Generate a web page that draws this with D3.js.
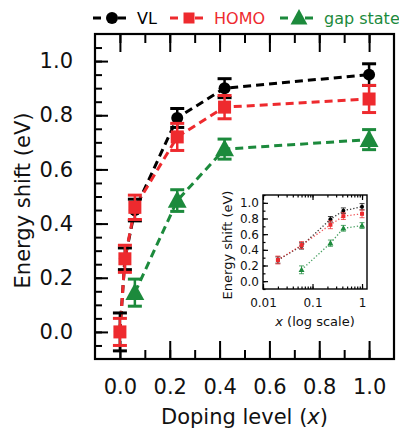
<!DOCTYPE html>
<html><head><meta charset="utf-8">
<script src="https://cdn.jsdelivr.net/npm/d3@7"></script>
<style>body{margin:0;background:#fff}svg{display:block}text{font-family:"DejaVu Sans",Verdana,sans-serif}</style>
</head><body><svg id="c" width="399" height="434"></svg>
<script>
const dopingLevels = [0, 0.02, 0.06, 0.23, 0.42, 1.0];
const vlValues = [0.0, 0.27, 0.45, 0.79, 0.90, 0.95];
const vlErrors = [0.07, 0.04, 0.04, 0.035, 0.035, 0.04];
const homoValues = [0.0, 0.27, 0.46, 0.72, 0.83, 0.86];
const homoErrors = [0.05, 0.05, 0.045, 0.05, 0.043, 0.05];
const gapLevels = [0.06, 0.23, 0.42, 1.0];
const gapValues = [0.145, 0.485, 0.675, 0.71];
const gapErrors = [0.05, 0.04, 0.037, 0.037];
const seriesNames = ["VL", "HOMO", "gap state"];
const xTickLabels = [0, 0.2, 0.4, 0.6, 0.8, 1.0];
const yTickLabels = [0, 0.2, 0.4, 0.6, 0.8, 1.0];
const insetXTicks = [0.01, 0.1, 1];

const colors = {"VL":"#000000","HOMO":"#ee2a2e","gap state":"#1c8a3c"};
const series = [
  {name:"VL", xs:dopingLevels, ys:vlValues, es:vlErrors, shape:"circle"},
  {name:"HOMO", xs:dopingLevels, ys:homoValues, es:homoErrors, shape:"square"},
  {name:"gap state", xs:gapLevels, ys:gapValues, es:gapErrors, shape:"triangle"}
].map(s => ({...s, pts: s.xs.map((x,i)=>({x, y:s.ys[i], e:s.es[i]}))}));

const svg = d3.select("#c");

function marker(g, shape, cx, cy, size, color){
  if(shape==="circle") g.append("circle").attr("cx",cx).attr("cy",cy).attr("r",size*0.5).attr("fill",color);
  else if(shape==="square") g.append("rect").attr("x",cx-size*0.5).attr("y",cy-size*0.5).attr("width",size).attr("height",size).attr("fill",color);
  else { const h=size*0.85, w=size*0.8;
    g.append("path").attr("d",`M${cx},${cy-h*0.62}L${cx+w*0.62},${cy+h*0.45}L${cx-w*0.62},${cy+h*0.45}Z`).attr("fill",color); }
}

// ---------- main plot ----------
const L=95,R=394,T=34,B=359;
const x = d3.scaleLinear().domain([-0.1,1.1]).range([L,R]);
const y = d3.scaleLinear().domain([-0.1,1.1]).range([B,T]);

const ax = svg.append("g");
function styleAxis(g){ g.select(".domain").remove(); g.selectAll("line").attr("stroke","#000").attr("stroke-width",2); }
ax.append("g").attr("transform",`translate(0,${B})`).call(d3.axisBottom(x).tickValues(d3.range(0,1.01,0.1)).tickSize(-9).tickFormat("")).call(styleAxis);
ax.append("g").attr("transform",`translate(0,${B})`).call(d3.axisBottom(x).tickValues(xTickLabels).tickSize(-18).tickPadding(20).tickFormat(d3.format(".1f"))).call(styleAxis)
  .selectAll("text").attr("font-size",21).attr("fill","#111");
ax.append("g").attr("transform",`translate(0,${T})`).call(d3.axisTop(x).tickValues(d3.range(0,1.01,0.1)).tickSize(-9).tickFormat("")).call(styleAxis);
ax.append("g").attr("transform",`translate(0,${T})`).call(d3.axisTop(x).tickValues(xTickLabels).tickSize(-18).tickFormat("")).call(styleAxis);
ax.append("g").attr("transform",`translate(${L},0)`).call(d3.axisLeft(y).tickValues(d3.range(-0.05,1.09,0.05)).tickSize(-7).tickFormat("")).call(styleAxis);
ax.append("g").attr("transform",`translate(${L},0)`).call(d3.axisLeft(y).tickValues(yTickLabels).tickSize(-13).tickPadding(22).tickFormat(d3.format(".1f"))).call(styleAxis)
  .selectAll("text").attr("font-size",21).attr("fill","#111");
svg.append("rect").attr("x",L).attr("y",T).attr("width",R-L).attr("height",B-T).attr("fill","none").attr("stroke","#000").attr("stroke-width",2.2);

const xt = svg.append("text").attr("x",(L+R)/2).attr("y",424).attr("text-anchor","middle").attr("font-size",21).attr("fill","#111");
xt.append("tspan").text("Doping level (");
xt.append("tspan").attr("font-style","italic").text("x");
xt.append("tspan").text(")");
svg.append("text").attr("transform",`translate(30,${(T+B)/2+4}) rotate(-90)`).attr("text-anchor","middle").attr("font-size",21).attr("fill","#111").text("Energy shift (eV)");

const plot = svg.append("g");
const line = d3.line().x(d=>x(d.x)).y(d=>y(d.y));
series.forEach(s=>{
  const c = colors[s.name];
  plot.append("path").datum(s.pts).attr("d",line).attr("fill","none").attr("stroke",c).attr("stroke-width",3).attr("stroke-dasharray","8,5");
});
series.forEach(s=>{
  const c = colors[s.name];
  const g = plot.append("g");
  s.pts.forEach(p=>{
    const px=x(p.x), y0=y(p.y-p.e), y1=y(p.y+p.e);
    g.append("line").attr("x1",px).attr("x2",px).attr("y1",y0).attr("y2",y1).attr("stroke",c).attr("stroke-width",2.5);
    [y0,y1].forEach(yy=>g.append("line").attr("x1",px-7).attr("x2",px+7).attr("y1",yy).attr("y2",yy).attr("stroke",c).attr("stroke-width",3));
    marker(g, s.shape, px, y(p.y), s.shape==="triangle"?19:(s.shape==="square"?13:12), c);
  });
});

// ---------- legend ----------
const legX = [93, 170, 280];
const leg = svg.append("g");
series.forEach((s,i)=>{
  const c = colors[s.name], lx=legX[i], ly=18;
  leg.append("line").attr("x1",lx).attr("x2",lx+33).attr("y1",ly).attr("y2",ly).attr("stroke",c).attr("stroke-width",3).attr("stroke-dasharray","8,17");
  marker(leg, s.shape, lx+19, ly, s.shape==="triangle"?17:(s.shape==="square"?11:12), c);
  leg.append("text").attr("x",lx+44).attr("y",ly+6).attr("font-size",16).attr("fill",c).text(s.name);
});

// ---------- inset ----------
const iL=263,iR=367,iT=195,iB=289;
const ix = d3.scaleLog().domain([0.01,1.26]).range([iL,iR]);
const iy = d3.scaleLinear().domain([-0.1,1.1]).range([iB,iT]);
const ins = svg.append("g");
ins.append("rect").attr("x",iL).attr("y",iT).attr("width",iR-iL).attr("height",iB-iT).attr("fill","#fff");
function styleI(g){ g.select(".domain").remove(); g.selectAll("line").attr("stroke","#000").attr("stroke-width",1.2); }
const minorLog = [];
[0.01,0.1,1].forEach(d=>{ for(let k=1;k<10;k++){ const v=d*k; if(v<=1.26) minorLog.push(v);} });
ins.append("g").attr("transform",`translate(0,${iB})`).call(d3.axisBottom(ix).tickValues(minorLog).tickSize(-2.5).tickFormat("")).call(styleI);
ins.append("g").attr("transform",`translate(0,${iB})`).call(d3.axisBottom(ix).tickValues(insetXTicks).tickSize(-5).tickPadding(9).tickFormat(d3.format("~g"))).call(styleI)
  .selectAll("text").attr("font-size",12).attr("fill","#111");
ins.append("g").attr("transform",`translate(0,${iT})`).call(d3.axisTop(ix).tickValues(minorLog).tickSize(-2.5).tickFormat("")).call(styleI);
ins.append("g").attr("transform",`translate(0,${iT})`).call(d3.axisTop(ix).tickValues(insetXTicks).tickSize(-5).tickFormat("")).call(styleI);
ins.append("g").attr("transform",`translate(${iL},0)`).call(d3.axisLeft(iy).tickValues(d3.range(-0.1,1.11,0.1)).tickSize(-2.5).tickFormat("")).call(styleI);
ins.append("g").attr("transform",`translate(${iL},0)`).call(d3.axisLeft(iy).tickValues(yTickLabels).tickSize(-5).tickPadding(4).tickFormat(d3.format(".1f"))).call(styleI)
  .selectAll("text").attr("font-size",12).attr("fill","#111");
ins.append("rect").attr("x",iL).attr("y",iT).attr("width",iR-iL).attr("height",iB-iT).attr("fill","none").attr("stroke","#000").attr("stroke-width",1.4);
const ixt = ins.append("text").attr("x",(iL+iR)/2).attr("y",326).attr("text-anchor","middle").attr("font-size",13).attr("fill","#111");
ixt.append("tspan").attr("font-style","italic").text("x");
ixt.append("tspan").text(" (log scale)");
ins.append("text").attr("transform",`translate(232,${(iT+iB)/2+3}) rotate(-90)`).attr("text-anchor","middle").attr("font-size",13).attr("fill","#111").text("Energy shift (eV)");

const iline = d3.line().x(d=>ix(d.x)).y(d=>iy(d.y));
series.forEach(s=>{
  const c=colors[s.name];
  const pts = s.pts.filter(p=>p.x>0);
  ins.append("path").datum(pts).attr("d",iline).attr("fill","none").attr("stroke",c).attr("stroke-width",1.3).attr("stroke-dasharray","1.3,2").attr("opacity",0.8);
});
series.forEach(s=>{
  const c=colors[s.name];
  s.pts.filter(p=>p.x>0).forEach(p=>{
    const px=ix(p.x), y0=iy(p.y-p.e), y1=iy(p.y+p.e);
    ins.append("line").attr("x1",px).attr("x2",px).attr("y1",y0).attr("y2",y1).attr("stroke",c).attr("stroke-width",1).attr("opacity",0.75);
    [y0,y1].forEach(yy=>ins.append("line").attr("x1",px-2.5).attr("x2",px+2.5).attr("y1",yy).attr("y2",yy).attr("stroke",c).attr("stroke-width",1).attr("opacity",0.75));
    marker(ins, s.shape, px, iy(p.y), s.shape==="triangle"?6:4, c);
  });
});
</script></body></html>
